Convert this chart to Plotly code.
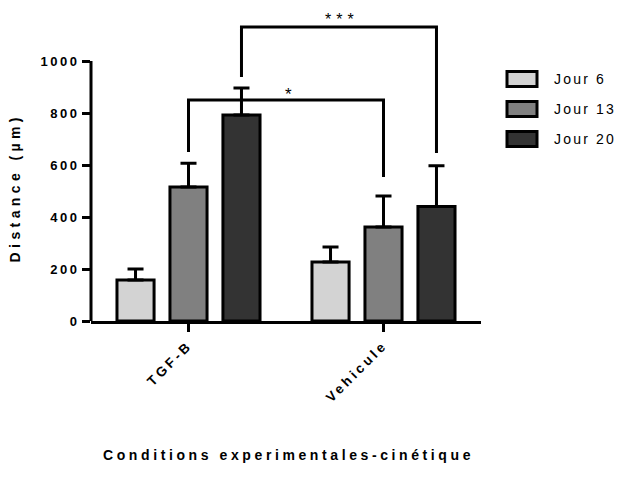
import plotly.graph_objects as go

categories = ["TGF-B", "Vehicule"]
series_names = ["Jour 6", "Jour 13", "Jour 20"]
jour6 = [158, 227]
jour13 = [515, 362]
jour20 = [792, 440]
err6 = [42, 58]
err13 = [92, 119]
err20 = [104, 157]
colors = ["#d3d3d3", "#808080", "#333333"]

y_ticks = [0, 200, 400, 600, 800, 1000]

# significance brackets: (left cat idx, left series idx, left leg end,
#                         right cat idx, right series idx, right leg end, bar y, label)
brackets = [
    (0, 1, 650, 1, 1, 554, 850, "*"),
    (0, 2, 938, 1, 2, 646, 1131, "***"),
]

FONT = "Liberation Sans, Arial, sans-serif"
bargap = 0.185
slot = (1 - bargap) / 3


def spaced(t, px):
    return f'<span style="letter-spacing:{px}px">{t}</span>'


fig = go.Figure()
for name, vals, errs, col in zip(series_names, [jour6, jour13, jour20], [err6, err13, err20], colors):
    fig.add_trace(go.Bar(
        name=name, x=categories, y=vals, showlegend=False,
        marker=dict(color=col, line=dict(color="black", width=3)),
        error_y=dict(type="data", array=errs, arrayminus=[0] * len(errs),
                     symmetric=False, color="black", thickness=3, width=8),
    ))

shapes = []
annotations = []
for (c1, s1, e1, c2, s2, e2, yb, lab) in brackets:
    x1 = c1 + (s1 - 1) * slot
    x2 = c2 + (s2 - 1) * slot
    shapes.append(dict(type="path", xref="x", yref="y",
                       path=f"M {x1},{e1} L {x1},{yb} L {x2},{yb} L {x2},{e2}",
                       line=dict(color="black", width=3)))
    if len(lab) == 1:
        annotations.append(dict(x=(x1 + x2) / 2, y=yb, xref="x", yref="y",
                                text=lab, showarrow=False, yanchor="bottom",
                                yshift=-6, xshift=2,
                                font=dict(family=FONT, size=17, color="black")))
    else:
        # keep the label inside the figure: anchor its top just below the page edge
        annotations.append(dict(x=(x1 + x2) / 2, y=1, xref="x", yref="paper",
                                text=spaced(lab, 5), showarrow=False, yanchor="top",
                                yshift=13, xshift=3,
                                font=dict(family=FONT, size=16, color="black")))

# y axis line from 0 to 1000 only
shapes.append(dict(type="line", xref="paper", yref="y", x0=0, x1=0, y0=0, y1=1000,
                   line=dict(color="black", width=3)))

# legend (drawn manually to match the wide boxes)
plot_w, plot_h = 390.0, 299.0
for i, (name, col) in enumerate(zip(series_names, colors)):
    cy = 1 - (57 + 30 * i) / plot_h
    shapes.append(dict(type="rect", xref="paper", yref="paper",
                       x0=416 / plot_w, x1=446 / plot_w,
                       y0=cy - 7.5 / plot_h, y1=cy + 7.5 / plot_h,
                       fillcolor=col, line=dict(color="black", width=3)))
    annotations.append(dict(x=461 / plot_w, y=cy, xref="paper", yref="paper",
                            text=spaced(name, 2.2), showarrow=False,
                            xanchor="left", yanchor="middle",
                            font=dict(family=FONT, size=14, color="black")))

annotations.append(dict(x=0, y=510, xref="paper", yref="y", text=spaced("Distance (µm)", 4.4),
                        showarrow=False, textangle=-90, xanchor="center", xshift=-76,
                        font=dict(family=FONT, size=14, color="black", weight="bold")))
annotations.append(dict(x=0.5, y=0, xref="paper", yref="paper",
                        text=spaced("Conditions experimentales-cinétique", 3.6),
                        showarrow=False, yanchor="middle", yshift=-134, xshift=2,
                        font=dict(family=FONT, size=14, color="black", weight="bold")))

fig.update_layout(
    width=623, height=484,
    margin=dict(l=83, r=150, t=14, b=171),
    plot_bgcolor="white", paper_bgcolor="white",
    barmode="group", bargap=bargap, bargroupgap=0.30,
    font=dict(family=FONT, color="black"),
    showlegend=False,
    shapes=shapes, annotations=annotations,
)
fig.update_xaxes(range=[-0.5, 1.5], showline=True, linecolor="black", linewidth=3,
                 tickvals=categories, ticktext=[spaced(c, 3.2) for c in categories],
                 ticks="outside", ticklen=8, tickwidth=3, tickcolor="black",
                 tickangle=-45, showgrid=False, zeroline=False,
                 tickfont=dict(family=FONT, size=13.5, color="black", weight="bold"))
fig.update_yaxes(range=[0, 1150], showline=False, tickvals=y_ticks,
                 ticktext=[spaced(str(v), 2.5) for v in y_ticks],
                 ticks="outside", ticklen=8, tickwidth=3, tickcolor="black",
                 showgrid=False, zeroline=False,
                 tickfont=dict(family=FONT, size=13, color="black", weight="bold"))

fig.write_html("out.html")
